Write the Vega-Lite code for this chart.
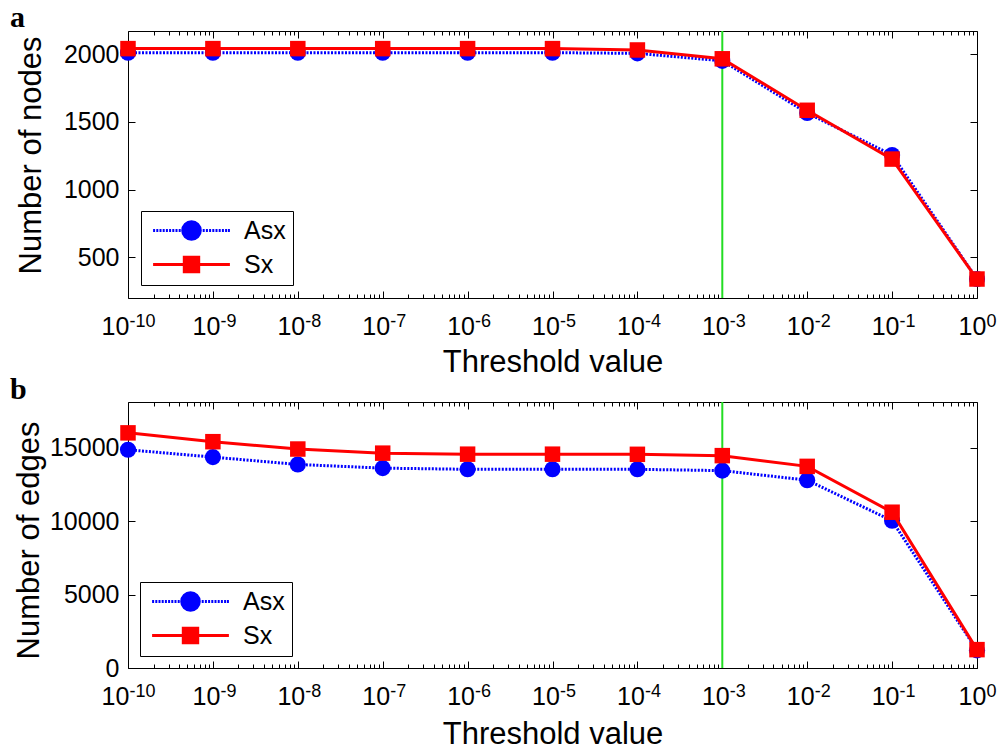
{
  "$schema": "https://vega.github.io/schema/vega-lite/v6.json",
  "background": "white",
  "padding": {"left": 9, "top": 2, "right": 5, "bottom": 2},
  "datasets": {
    "nodes": [
      {"t": 1e-10, "s": "Asx", "v": 2010}, {"t": 1e-9, "s": "Asx", "v": 2010}, {"t": 1e-8, "s": "Asx", "v": 2010},
      {"t": 1e-7, "s": "Asx", "v": 2010}, {"t": 1e-6, "s": "Asx", "v": 2010}, {"t": 1e-5, "s": "Asx", "v": 2010},
      {"t": 1e-4, "s": "Asx", "v": 2005}, {"t": 1e-3, "s": "Asx", "v": 1950}, {"t": 1e-2, "s": "Asx", "v": 1565},
      {"t": 1e-1, "s": "Asx", "v": 1255}, {"t": 1, "s": "Asx", "v": 340},
      {"t": 1e-10, "s": "Sx", "v": 2040}, {"t": 1e-9, "s": "Sx", "v": 2040}, {"t": 1e-8, "s": "Sx", "v": 2040},
      {"t": 1e-7, "s": "Sx", "v": 2040}, {"t": 1e-6, "s": "Sx", "v": 2040}, {"t": 1e-5, "s": "Sx", "v": 2040},
      {"t": 1e-4, "s": "Sx", "v": 2030}, {"t": 1e-3, "s": "Sx", "v": 1965}, {"t": 1e-2, "s": "Sx", "v": 1585},
      {"t": 1e-1, "s": "Sx", "v": 1225}, {"t": 1, "s": "Sx", "v": 340}
    ],
    "edges": [
      {"t": 1e-10, "s": "Asx", "v": 14850}, {"t": 1e-9, "s": "Asx", "v": 14350}, {"t": 1e-8, "s": "Asx", "v": 13850},
      {"t": 1e-7, "s": "Asx", "v": 13600}, {"t": 1e-6, "s": "Asx", "v": 13520}, {"t": 1e-5, "s": "Asx", "v": 13520},
      {"t": 1e-4, "s": "Asx", "v": 13520}, {"t": 1e-3, "s": "Asx", "v": 13430}, {"t": 1e-2, "s": "Asx", "v": 12780},
      {"t": 1e-1, "s": "Asx", "v": 10020}, {"t": 1, "s": "Asx", "v": 1200},
      {"t": 1e-10, "s": "Sx", "v": 16000}, {"t": 1e-9, "s": "Sx", "v": 15400}, {"t": 1e-8, "s": "Sx", "v": 14900},
      {"t": 1e-7, "s": "Sx", "v": 14620}, {"t": 1e-6, "s": "Sx", "v": 14550}, {"t": 1e-5, "s": "Sx", "v": 14550},
      {"t": 1e-4, "s": "Sx", "v": 14540}, {"t": 1e-3, "s": "Sx", "v": 14450}, {"t": 1e-2, "s": "Sx", "v": 13720},
      {"t": 1e-1, "s": "Sx", "v": 10600}, {"t": 1, "s": "Sx", "v": 1250}
    ],
    "thr": [{"t": 0.001}]
  },
  "config": {
    "view": {"stroke": "black", "strokeWidth": 1},
    "axis": {"grid": false, "domain": false, "tickColor": "black", "labelColor": "black", "titleColor": "black",
             "labelFont": "Liberation Sans", "titleFont": "Liberation Sans", "labelFontSize": 25, "titleFontSize": 31,
             "titleFontWeight": "normal", "labelFlush": false, "labelOverlap": false}
  },
  "resolve": {"scale": {"color": "independent", "shape": "independent", "strokeDash": "independent"}, "legend": {"color": "independent"}},
  "spacing": -4,
  "vconcat": [
    {
      "width": 849, "height": 267,
      "title": {"text": "a", "anchor": "start", "frame": "group", "font": "Liberation Serif", "fontSize": 30, "fontWeight": "bold", "color": "black", "dx": -118, "offset": -3},
      "resolve": {"axis": {"x": "independent", "y": "independent"}},
      "layer": [
        {"data": {"name": "thr"}, "mark": {"type": "rule", "color": "#22dd22", "strokeWidth": 2},
         "encoding": {"x": {"field": "t", "type": "quantitative", "scale": {"type": "log", "domain": [1e-10, 1]},
           "axis": {"orient": "bottom", "values": [1e-10,1e-9,1e-8,1e-7,1e-6,1e-5,1e-4,1e-3,1e-2,1e-1,1], "ticks": false, "labelPadding": 16,
             "labelExpr": "'10'", "labelAlign": "center",
             "labelOffset": {"condition": [{"test": "datum.value < 5e-10", "value": -13}, {"test": "datum.value > 0.5", "value": -5}], "value": -7},
             "title": "Threshold value", "titlePadding": 8}}}},
        {"data": {"name": "nodes"}, "mark": {"type": "point", "opacity": 0},
         "encoding": {"x": {"field": "t", "type": "quantitative",
           "axis": {"orient": "bottom", "values": [1e-10,1e-9,1e-8,1e-7,1e-6,1e-5,1e-4,1e-3,1e-2,1e-1,1], "ticks": false, "labelPadding": 14,
             "labelFontSize": 18, "labelAlign": "left",
             "labelExpr": "(datum.value < 0.5 ? '-' : '') + round(abs(log(datum.value)/LN10))",
             "labelOffset": {"condition": [{"test": "datum.value < 5e-10", "value": 1}, {"test": "datum.value > 0.5", "value": 9}], "value": 7},
             "title": null}},
           "y": {"field": "v", "type": "quantitative", "axis": null}}},
        {"data": {"name": "nodes"}, "transform": [{"filter": "datum.s === 'Asx'"}],
         "mark": {"type": "line", "strokeWidth": 3, "strokeDash": [2, 1.5]},
         "encoding": {
           "x": {"field": "t", "type": "quantitative", "scale": {"type": "log", "domain": [1e-10, 1]}, "axis": null},
           "y": {"field": "v", "type": "quantitative", "scale": {"domain": [200, 2170], "nice": false, "zero": false},
             "axis": {"orient": "left", "values": [500, 1000, 1500, 2000], "format": "d", "ticks": false, "labelPadding": 9, "title": "Number of nodes", "titleX": -88, "titleY": 124, "titleBaseline": "alphabetic", "titleAlign": "center", "titleAngle": 270}},
           "color": {"field": "s", "type": "nominal", "scale": {"domain": ["Asx", "Sx"], "range": ["#0000ff", "#ff0000"]},
             "legend": {"orient": "bottom-left", "offset": 13, "title": null, "strokeColor": "black", "fillColor": "white", "padding": 7,
               "labelFont": "Liberation Sans", "labelFontSize": 25, "labelColor": "black", "rowPadding": 5, "symbolSize": 256,
               "symbolOffset": 31, "labelOffset": 40, "symbolStrokeWidth": 3,
               "encode": {"symbols": {"update": {
                 "shape": [{"test": "datum.value === 'Asx'", "value": "M-4.8,0h0.25M-4.4,0h0.25M-4,0h0.25M-3.6,0h0.25M-3.2,0h0.25M-2.8,0h0.25M-2.4,0h0.25M-2,0h0.25M-1.6,0h0.25M-1.2,0h0.25M1,0h0.25M1.4,0h0.25M1.8,0h0.25M2.2,0h0.25M2.6,0h0.25M3,0h0.25M3.4,0h0.25M3.8,0h0.25M4.2,0h0.25M4.55,0h0.25M-1.1,0A1.1,1.1,0,1,0,1.1,0A1.1,1.1,0,1,0,-1.1,0Z"}, {"value": "M-4.8,0L4.8,0M-0.9,-0.9L0.9,-0.9L0.9,0.9L-0.9,0.9Z"}],
                 "fill": [{"test": "datum.value === 'Asx'", "value": "#0000ff"}, {"value": "#ff0000"}],
                 "stroke": [{"test": "datum.value === 'Asx'", "value": "#0000ff"}, {"value": "#ff0000"}],
                 "strokeWidth": {"value": 3}, "opacity": {"value": 1}, "fillOpacity": {"value": 1}, "strokeOpacity": {"value": 1}
               }}}}}
         }},
        {"data": {"name": "nodes"}, "transform": [{"filter": "datum.s === 'Asx'"}],
         "mark": {"type": "point", "shape": "circle", "filled": true, "size": 260, "opacity": 1},
         "encoding": {"x": {"field": "t", "type": "quantitative", "axis": null}, "y": {"field": "v", "type": "quantitative", "axis": null},
           "color": {"field": "s", "type": "nominal"}}},
        {"data": {"name": "nodes"}, "transform": [{"filter": "datum.s === 'Sx'"}],
         "mark": {"type": "line", "strokeWidth": 3},
         "encoding": {"x": {"field": "t", "type": "quantitative", "axis": null}, "y": {"field": "v", "type": "quantitative", "axis": null},
           "color": {"field": "s", "type": "nominal"}}},
        {"data": {"name": "nodes"}, "transform": [{"filter": "datum.s === 'Sx'"}],
         "mark": {"type": "point", "shape": "square", "filled": true, "size": 240, "opacity": 1},
         "encoding": {"x": {"field": "t", "type": "quantitative", "axis": null}, "y": {"field": "v", "type": "quantitative", "axis": null},
           "color": {"field": "s", "type": "nominal"}}},
        {"data": {"name": "nodes"}, "mark": {"type": "point", "opacity": 0},
         "encoding": {
           "x": {"field": "t", "type": "quantitative", "axis": {"orient": "bottom", "values": [1e-10,1e-9,1e-8,1e-7,1e-6,1e-5,1e-4,1e-3,1e-2,1e-1,1], "labels": false, "tickSize": -7, "title": null}},
           "y": {"field": "v", "type": "quantitative", "axis": {"orient": "left", "values": [500, 1000, 1500, 2000], "labels": false, "tickSize": -7, "title": null}}}},
        {"data": {"name": "nodes"}, "mark": {"type": "point", "opacity": 0},
         "encoding": {
           "x": {"field": "t", "type": "quantitative", "axis": {"orient": "bottom", "values": [2e-10,3e-10,4e-10,5e-10,6e-10,7e-10,8e-10,9e-10,2e-9,3e-9,4e-9,5e-9,6e-9,7e-9,8e-9,9e-9,2e-8,3e-8,4e-8,5e-8,6e-8,7e-8,8e-8,9e-8,2e-7,3e-7,4e-7,5e-7,6e-7,7e-7,8e-7,9e-7,2e-6,3e-6,4e-6,5e-6,6e-6,7e-6,8e-6,9e-6,2e-5,3e-5,4e-5,5e-5,6e-5,7e-5,8e-5,9e-5,2e-4,3e-4,4e-4,5e-4,6e-4,7e-4,8e-4,9e-4,2e-3,3e-3,4e-3,5e-3,6e-3,7e-3,8e-3,9e-3,2e-2,3e-2,4e-2,5e-2,6e-2,7e-2,8e-2,9e-2,0.2,0.3,0.4,0.5,0.6,0.7,0.8,0.9], "labels": false, "tickSize": -4, "title": null}},
           "y": {"field": "v", "type": "quantitative", "axis": {"orient": "right", "values": [500, 1000, 1500, 2000], "labels": false, "tickSize": -7, "title": null}}}},
        {"data": {"name": "nodes"}, "mark": {"type": "point", "opacity": 0},
         "encoding": {
           "x": {"field": "t", "type": "quantitative", "axis": {"orient": "top", "values": [1e-10,1e-9,1e-8,1e-7,1e-6,1e-5,1e-4,1e-3,1e-2,1e-1,1], "labels": false, "tickSize": -7, "title": null}},
           "y": {"field": "v", "type": "quantitative", "axis": null}}},
        {"data": {"name": "nodes"}, "mark": {"type": "point", "opacity": 0},
         "encoding": {
           "x": {"field": "t", "type": "quantitative", "axis": {"orient": "top", "values": [2e-10,3e-10,4e-10,5e-10,6e-10,7e-10,8e-10,9e-10,2e-9,3e-9,4e-9,5e-9,6e-9,7e-9,8e-9,9e-9,2e-8,3e-8,4e-8,5e-8,6e-8,7e-8,8e-8,9e-8,2e-7,3e-7,4e-7,5e-7,6e-7,7e-7,8e-7,9e-7,2e-6,3e-6,4e-6,5e-6,6e-6,7e-6,8e-6,9e-6,2e-5,3e-5,4e-5,5e-5,6e-5,7e-5,8e-5,9e-5,2e-4,3e-4,4e-4,5e-4,6e-4,7e-4,8e-4,9e-4,2e-3,3e-3,4e-3,5e-3,6e-3,7e-3,8e-3,9e-3,2e-2,3e-2,4e-2,5e-2,6e-2,7e-2,8e-2,9e-2,0.2,0.3,0.4,0.5,0.6,0.7,0.8,0.9], "labels": false, "tickSize": -4, "title": null}},
           "y": {"field": "v", "type": "quantitative", "axis": null}}}
      ]
    },
    {
      "width": 849, "height": 266,
      "title": {"text": "b", "anchor": "start", "frame": "group", "font": "Liberation Serif", "fontSize": 30, "fontWeight": "bold", "color": "black", "dx": -118, "offset": -4},
      "resolve": {"axis": {"x": "independent", "y": "independent"}},
      "layer": [
        {"data": {"name": "thr"}, "mark": {"type": "rule", "color": "#22dd22", "strokeWidth": 2},
         "encoding": {"x": {"field": "t", "type": "quantitative", "scale": {"type": "log", "domain": [1e-10, 1]},
           "axis": {"orient": "bottom", "values": [1e-10,1e-9,1e-8,1e-7,1e-6,1e-5,1e-4,1e-3,1e-2,1e-1,1], "ticks": false, "labelPadding": 16,
             "labelExpr": "'10'", "labelAlign": "center",
             "labelOffset": {"condition": [{"test": "datum.value < 5e-10", "value": -13}, {"test": "datum.value > 0.5", "value": -5}], "value": -7},
             "title": "Threshold value", "titlePadding": 10}}}},
        {"data": {"name": "edges"}, "mark": {"type": "point", "opacity": 0},
         "encoding": {"x": {"field": "t", "type": "quantitative",
           "axis": {"orient": "bottom", "values": [1e-10,1e-9,1e-8,1e-7,1e-6,1e-5,1e-4,1e-3,1e-2,1e-1,1], "ticks": false, "labelPadding": 14,
             "labelFontSize": 18, "labelAlign": "left",
             "labelExpr": "(datum.value < 0.5 ? '-' : '') + round(abs(log(datum.value)/LN10))",
             "labelOffset": {"condition": [{"test": "datum.value < 5e-10", "value": 1}, {"test": "datum.value > 0.5", "value": 9}], "value": 7},
             "title": null}},
           "y": {"field": "v", "type": "quantitative", "axis": null}}},
        {"data": {"name": "edges"}, "transform": [{"filter": "datum.s === 'Asx'"}],
         "mark": {"type": "line", "strokeWidth": 3, "strokeDash": [2, 1.5]},
         "encoding": {
           "x": {"field": "t", "type": "quantitative", "scale": {"type": "log", "domain": [1e-10, 1]}, "axis": null},
           "y": {"field": "v", "type": "quantitative", "scale": {"domain": [0, 18100], "nice": false, "zero": false},
             "axis": {"orient": "left", "values": [0, 5000, 10000, 15000], "format": "d", "ticks": false, "labelPadding": 9, "title": "Number of edges", "titleX": -90, "titleY": 138, "titleBaseline": "alphabetic", "titleAlign": "center", "titleAngle": 270}},
           "color": {"field": "s", "type": "nominal", "scale": {"domain": ["Asx", "Sx"], "range": ["#0000ff", "#ff0000"]},
             "legend": {"orient": "bottom-left", "offset": 12, "title": null, "strokeColor": "black", "fillColor": "white", "padding": 7,
               "labelFont": "Liberation Sans", "labelFontSize": 25, "labelColor": "black", "rowPadding": 5, "symbolSize": 256,
               "symbolOffset": 31, "labelOffset": 40, "symbolStrokeWidth": 3,
               "encode": {"symbols": {"update": {
                 "shape": [{"test": "datum.value === 'Asx'", "value": "M-4.8,0h0.25M-4.4,0h0.25M-4,0h0.25M-3.6,0h0.25M-3.2,0h0.25M-2.8,0h0.25M-2.4,0h0.25M-2,0h0.25M-1.6,0h0.25M-1.2,0h0.25M1,0h0.25M1.4,0h0.25M1.8,0h0.25M2.2,0h0.25M2.6,0h0.25M3,0h0.25M3.4,0h0.25M3.8,0h0.25M4.2,0h0.25M4.55,0h0.25M-1.1,0A1.1,1.1,0,1,0,1.1,0A1.1,1.1,0,1,0,-1.1,0Z"}, {"value": "M-4.8,0L4.8,0M-0.9,-0.9L0.9,-0.9L0.9,0.9L-0.9,0.9Z"}],
                 "fill": [{"test": "datum.value === 'Asx'", "value": "#0000ff"}, {"value": "#ff0000"}],
                 "stroke": [{"test": "datum.value === 'Asx'", "value": "#0000ff"}, {"value": "#ff0000"}],
                 "strokeWidth": {"value": 3}, "opacity": {"value": 1}, "fillOpacity": {"value": 1}, "strokeOpacity": {"value": 1}
               }}}}}
         }},
        {"data": {"name": "edges"}, "transform": [{"filter": "datum.s === 'Asx'"}],
         "mark": {"type": "point", "shape": "circle", "filled": true, "size": 260, "opacity": 1},
         "encoding": {"x": {"field": "t", "type": "quantitative", "axis": null}, "y": {"field": "v", "type": "quantitative", "axis": null},
           "color": {"field": "s", "type": "nominal"}}},
        {"data": {"name": "edges"}, "transform": [{"filter": "datum.s === 'Sx'"}],
         "mark": {"type": "line", "strokeWidth": 3},
         "encoding": {"x": {"field": "t", "type": "quantitative", "axis": null}, "y": {"field": "v", "type": "quantitative", "axis": null},
           "color": {"field": "s", "type": "nominal"}}},
        {"data": {"name": "edges"}, "transform": [{"filter": "datum.s === 'Sx'"}],
         "mark": {"type": "point", "shape": "square", "filled": true, "size": 240, "opacity": 1},
         "encoding": {"x": {"field": "t", "type": "quantitative", "axis": null}, "y": {"field": "v", "type": "quantitative", "axis": null},
           "color": {"field": "s", "type": "nominal"}}},
        {"data": {"name": "edges"}, "mark": {"type": "point", "opacity": 0},
         "encoding": {
           "x": {"field": "t", "type": "quantitative", "axis": {"orient": "bottom", "values": [1e-10,1e-9,1e-8,1e-7,1e-6,1e-5,1e-4,1e-3,1e-2,1e-1,1], "labels": false, "tickSize": -7, "title": null}},
           "y": {"field": "v", "type": "quantitative", "axis": {"orient": "left", "values": [0, 5000, 10000, 15000], "labels": false, "tickSize": -7, "title": null}}}},
        {"data": {"name": "edges"}, "mark": {"type": "point", "opacity": 0},
         "encoding": {
           "x": {"field": "t", "type": "quantitative", "axis": {"orient": "bottom", "values": [2e-10,3e-10,4e-10,5e-10,6e-10,7e-10,8e-10,9e-10,2e-9,3e-9,4e-9,5e-9,6e-9,7e-9,8e-9,9e-9,2e-8,3e-8,4e-8,5e-8,6e-8,7e-8,8e-8,9e-8,2e-7,3e-7,4e-7,5e-7,6e-7,7e-7,8e-7,9e-7,2e-6,3e-6,4e-6,5e-6,6e-6,7e-6,8e-6,9e-6,2e-5,3e-5,4e-5,5e-5,6e-5,7e-5,8e-5,9e-5,2e-4,3e-4,4e-4,5e-4,6e-4,7e-4,8e-4,9e-4,2e-3,3e-3,4e-3,5e-3,6e-3,7e-3,8e-3,9e-3,2e-2,3e-2,4e-2,5e-2,6e-2,7e-2,8e-2,9e-2,0.2,0.3,0.4,0.5,0.6,0.7,0.8,0.9], "labels": false, "tickSize": -4, "title": null}},
           "y": {"field": "v", "type": "quantitative", "axis": {"orient": "right", "values": [0, 5000, 10000, 15000], "labels": false, "tickSize": -7, "title": null}}}},
        {"data": {"name": "edges"}, "mark": {"type": "point", "opacity": 0},
         "encoding": {
           "x": {"field": "t", "type": "quantitative", "axis": {"orient": "top", "values": [1e-10,1e-9,1e-8,1e-7,1e-6,1e-5,1e-4,1e-3,1e-2,1e-1,1], "labels": false, "tickSize": -7, "title": null}},
           "y": {"field": "v", "type": "quantitative", "axis": null}}},
        {"data": {"name": "edges"}, "mark": {"type": "point", "opacity": 0},
         "encoding": {
           "x": {"field": "t", "type": "quantitative", "axis": {"orient": "top", "values": [2e-10,3e-10,4e-10,5e-10,6e-10,7e-10,8e-10,9e-10,2e-9,3e-9,4e-9,5e-9,6e-9,7e-9,8e-9,9e-9,2e-8,3e-8,4e-8,5e-8,6e-8,7e-8,8e-8,9e-8,2e-7,3e-7,4e-7,5e-7,6e-7,7e-7,8e-7,9e-7,2e-6,3e-6,4e-6,5e-6,6e-6,7e-6,8e-6,9e-6,2e-5,3e-5,4e-5,5e-5,6e-5,7e-5,8e-5,9e-5,2e-4,3e-4,4e-4,5e-4,6e-4,7e-4,8e-4,9e-4,2e-3,3e-3,4e-3,5e-3,6e-3,7e-3,8e-3,9e-3,2e-2,3e-2,4e-2,5e-2,6e-2,7e-2,8e-2,9e-2,0.2,0.3,0.4,0.5,0.6,0.7,0.8,0.9], "labels": false, "tickSize": -4, "title": null}},
           "y": {"field": "v", "type": "quantitative", "axis": null}}}
      ]
    }
  ]
}
